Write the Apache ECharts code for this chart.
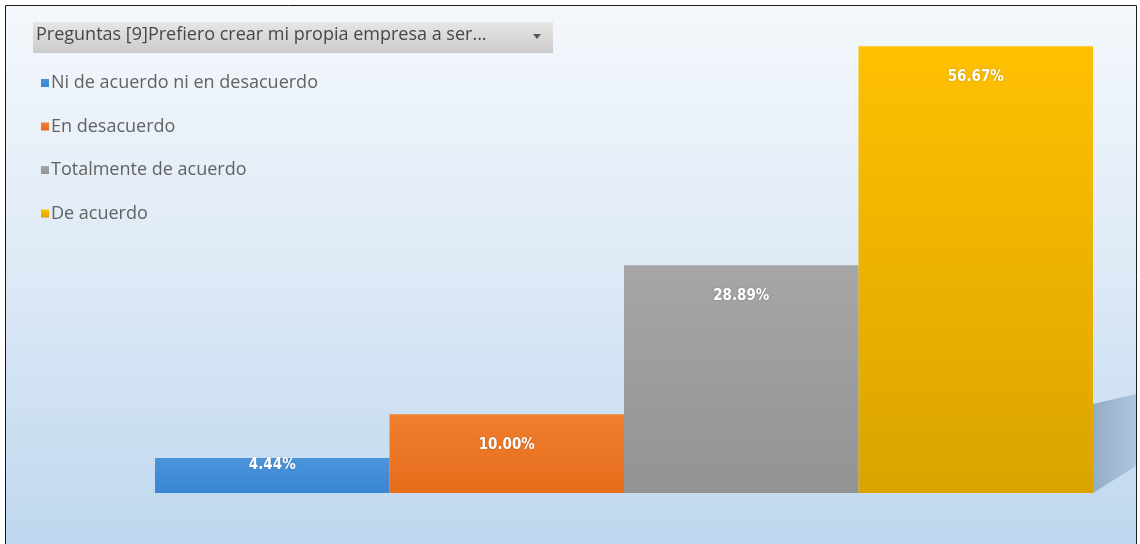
<!DOCTYPE html>
<html>
<head>
<meta charset="utf-8">
<script src="https://cdn.jsdelivr.net/npm/echarts@6/dist/echarts.min.js"></script>
<style>
  html, body { margin: 0; padding: 0; background: #ffffff; }
  #main { width: 1140px; height: 544px; }
</style>
</head>
<body>
<div id="main"></div>
<script>
// data
const categories = ['Ni de acuerdo ni en desacuerdo', 'En desacuerdo', 'Totalmente de acuerdo', 'De acuerdo']
const values = [4.44, 10.00, 28.89, 56.67]
const filterTitle = 'Preguntas [9]Prefiero crear mi propia empresa a ser...'

const colors = [
  ['#4b94dc', '#3a86d2'],
  ['#f07f2e', '#e56d1c'],
  ['#a6a6a6', '#939393'],
  ['#ffc000', '#daa400']
]

function grad (c) {
  return new echarts.graphic.LinearGradient(0, 0, 0, 1, [
    { offset: 0, color: c[0] },
    { offset: 1, color: c[1] }
  ])
}

const series = categories.map(function (name, i) {
  const data = categories.map(function (c, j) { return j === i ? values[i] : '-' })
  return {
    name: name,
    type: 'bar',
    stack: 'total',
    barWidth: '100%',
    itemStyle: { color: grad(colors[i]) },
    label: {
      show: true,
      position: 'insideTop',
      distance: values[i] < 6 ? 0 : 23,
      color: '#ffffff',
      fontFamily: 'DejaVu Sans Condensed, DejaVu Sans',
      fontWeight: 'bold',
      fontSize: 15,
      textShadowColor: 'rgba(0,0,0,0.25)',
      textShadowBlur: 2,
      formatter: function (p) { return p.value.toFixed(2) + '%' }
    },
    data: data
  }
})

const chart = echarts.init(document.getElementById('main'))
chart.setOption({
  animation: false,
  color: colors.map(function (c) { return c[0] }),
  grid: { left: 155, right: 47, top: 20, bottom: 51 },
  xAxis: {
    type: 'category',
    data: categories,
    show: false
  },
  yAxis: {
    type: 'value',
    min: 0,
    max: 60,
    show: false
  },
  legend: {
    orient: 'vertical',
    left: 36,
    top: 69,
    itemGap: 25.5,
    itemWidth: 8,
    itemHeight: 8,
    icon: 'rect',
    textStyle: {
      color: '#626262',
      fontFamily: 'Open Sans',
      fontSize: 18,
      padding: [0, 0, 0, -3]
    },
    data: categories
  },
  graphic: [
    {
      type: 'rect',
      z: -10,
      shape: { x: 5.5, y: 5.5, width: 1131, height: 560 },
      style: {
        fill: new echarts.graphic.LinearGradient(0, 0, 0, 1, [
          { offset: 0, color: '#f4f8fc' },
          { offset: 0.45, color: '#dfeaf6' },
          { offset: 1, color: '#bcd6ee' }
        ]),
        stroke: '#1a1a1a',
        lineWidth: 1
      }
    },
    {
      type: 'polygon',
      z: -9,
      shape: { points: [[1093, 404], [1136, 394], [1136, 466], [1093, 493]] },
      style: {
        fill: new echarts.graphic.LinearGradient(0, 0, 1, 0, [
          { offset: 0, color: '#93adc5' },
          { offset: 1, color: '#adc6de' }
        ])
      }
    },
    {
      type: 'rect',
      z: -8,
      shape: { x: 33, y: 22, width: 520, height: 31 },
      style: {
        fill: new echarts.graphic.LinearGradient(0, 0, 0, 1, [
          { offset: 0, color: '#e6e6e6' },
          { offset: 1, color: '#cbcbcb' }
        ])
      }
    },
    {
      type: 'text',
      left: 36,
      top: 26,
      style: {
        text: filterTitle,
        fill: '#474747',
        font: '18px "Open Sans"'
      }
    },
    {
      type: 'polygon',
      shape: { points: [[533, 34], [541, 34], [537, 39]] },
      style: { fill: '#555555' }
    }
  ],
  series: series
})
</script>
</body>
</html>
